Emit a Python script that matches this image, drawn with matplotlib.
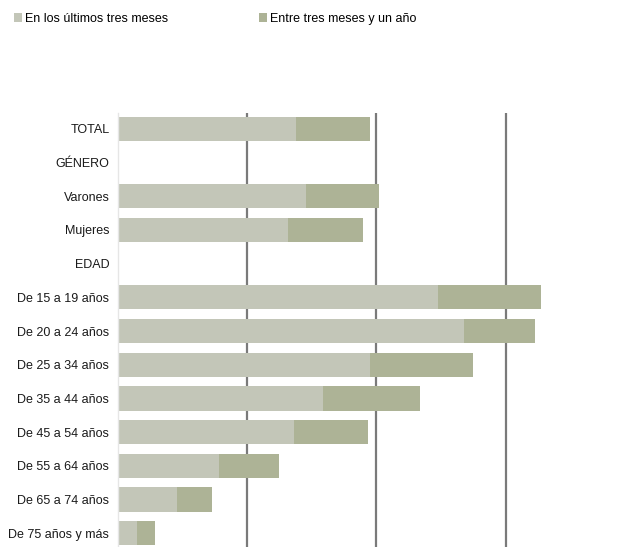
import numpy as np
import matplotlib.pyplot as plt

plt.rcParams['font.family'] = ['Liberation Sans', 'DejaVu Sans']

categorias = ['TOTAL', 'GÉNERO', 'Varones', 'Mujeres', 'EDAD',
              'De 15 a 19 años', 'De 20 a 24 años', 'De 25 a 34 años',
              'De 35 a 44 años', 'De 45 a 54 años', 'De 55 a 64 años',
              'De 65 a 74 años', 'De 75 años y más']
# GÉNERO and EDAD are heading rows without bars
ultimos_tres_meses = [13.8, np.nan, 14.6, 13.2, np.nan, 24.8, 26.8, 19.5, 15.9, 13.6, 7.8, 4.6, 1.5]
tres_meses_a_un_anio = [5.7, np.nan, 5.6, 5.75, np.nan, 7.9, 5.5, 7.95, 7.45, 5.75, 4.7, 2.7, 1.4]
series = ['En los últimos tres meses', 'Entre tres meses y un año']

c_claro = '#c3c6b8'
c_oscuro = '#adb396'

fig = plt.figure(figsize=(6.22, 5.47), dpi=100)
ax = fig.add_axes([117.7 / 622, 0.0, 452.6 / 622, 434 / 547])

y = np.arange(len(categorias))
a = np.array(ultimos_tres_meses)
b = np.array(tres_meses_a_un_anio)
h1 = ax.barh(y, a, height=0.72, color=c_claro, zorder=2, label=series[0])
h2 = ax.barh(y, b, left=a, height=0.72, color=c_oscuro, zorder=2, label=series[1])

ax.set_xlim(0, 35)
ax.set_ylim(-0.47 + 434 / 33.7, -0.47)
ax.set_yticks(y)
ax.set_yticklabels(categorias, fontsize=9, color='#1a1a1a')
ax.tick_params(axis='y', length=0, pad=6)
ax.set_xticks([10, 20, 30])
ax.tick_params(axis='x', length=0, labelbottom=False)
ax.grid(axis='x', color='#7a7a7a', linewidth=1.6, zorder=1)
ax.set_axisbelow(True)

for s in ['top', 'right', 'bottom']:
    ax.spines[s].set_visible(False)
ax.spines['left'].set_color('#e6e6e6')
ax.spines['left'].set_linewidth(1)

fig.legend(handles=[h1, h2], labels=series, loc='upper left',
           bbox_to_anchor=(11 / 622, 1 - 10 / 547), ncol=2, frameon=False,
           fontsize=9, handlelength=0.65, handleheight=0.8, handletextpad=0.3,
           columnspacing=7.2, borderaxespad=0, borderpad=0.2)

fig.savefig('out.png', dpi=100)
